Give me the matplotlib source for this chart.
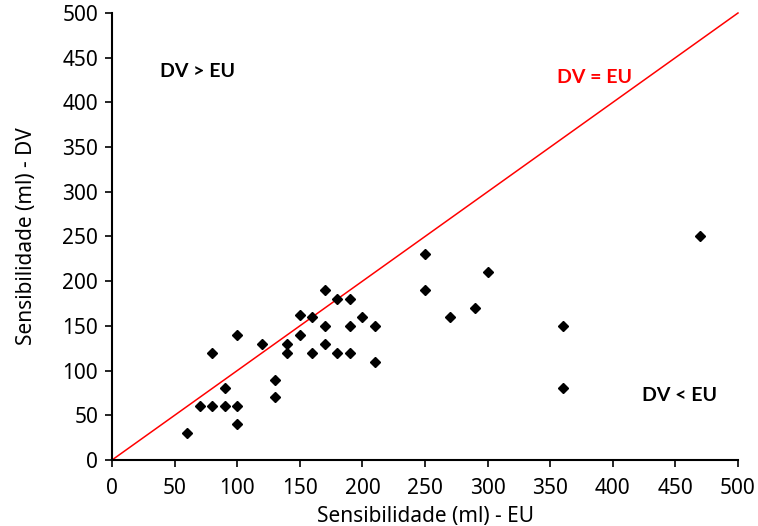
import matplotlib
matplotlib.use("Agg")
import matplotlib.pyplot as plt

plt.rcParams["font.family"] = ["Noto Sans", "DejaVu Sans"]

# Sensitivity (ml): EU on x, DV on y
eu = [60, 70, 80, 80, 90, 90, 100, 100, 100, 120, 130, 130, 140, 140,
      150, 150, 160, 160, 170, 170, 170, 180, 180, 190, 190, 190, 200,
      210, 210, 250, 250, 270, 290, 300, 360, 360, 470]
dv = [30, 60, 60, 120, 80, 60, 60, 40, 140, 130, 90, 70, 130, 120,
      162, 140, 160, 120, 190, 150, 130, 180, 120, 180, 150, 120, 160,
      150, 110, 230, 190, 160, 170, 210, 150, 80, 250]

identity = [0, 500]
ticks = list(range(0, 501, 50))

fig = plt.figure(figsize=(7.58, 5.26), dpi=100)
ax = fig.add_axes([0.1478, 0.1255, 0.8258, 0.8498])

ax.plot(identity, identity, color="red", lw=1.1, clip_on=False, zorder=2)
ax.plot(eu, dv, linestyle="none", marker="D", ms=5, color="black", zorder=3)

ax.set_xlim(0, 500)
ax.set_ylim(0, 500)
ax.set_xticks(ticks)
ax.set_yticks(ticks)
ax.tick_params(labelsize=15, length=5, width=1.2, colors="black")
ax.tick_params(axis="x", pad=8)
ax.tick_params(axis="y", pad=5)
ax.spines["top"].set_visible(False)
ax.spines["right"].set_visible(False)
for s in ("left", "bottom"):
    ax.spines[s].set_linewidth(1.5)

ax.set_xlabel("Sensibilidade (ml) - EU", fontsize=15, labelpad=5)
ax.set_ylabel("Sensibilidade (ml) - DV", fontsize=15, labelpad=18)

note = dict(fontsize=14, fontweight="bold", fontstretch="normal",
            fontfamily=["Lato", "DejaVu Sans"], ha="center", va="center")
ax.text(68, 434, "DV > EU", **note)
ax.text(385, 428, "DV = EU", color="red", **note)
ax.text(453, 72, "DV < EU", **note)

fig.savefig("out.png", dpi=100)
